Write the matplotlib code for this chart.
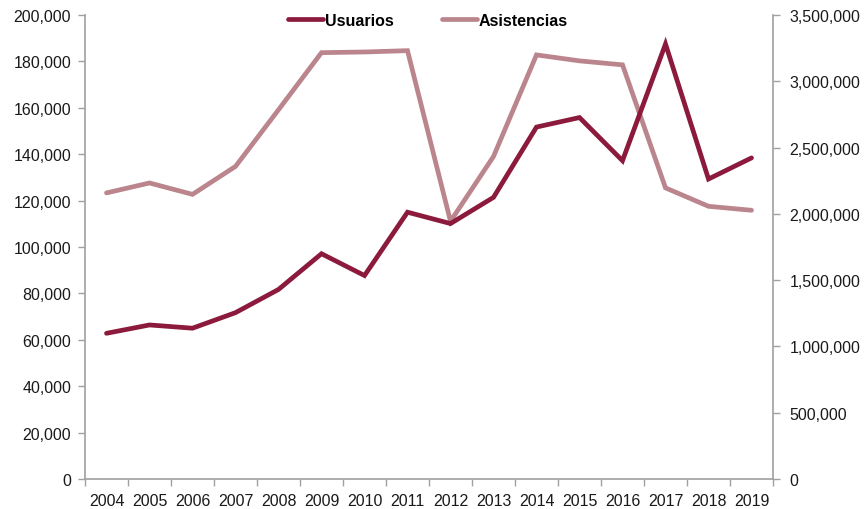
import matplotlib
matplotlib.use("Agg")
import matplotlib.pyplot as plt
from matplotlib.ticker import FuncFormatter, FixedLocator

years = [str(y) for y in range(2004, 2020)]
usuarios = [62800, 66400, 65000, 71700, 81700, 97100, 87700, 115000,
            110100, 121400, 151700, 155800, 137200, 187500, 129300, 138400]
asistencias = [2158000, 2233000, 2147000, 2358000, 2785000, 3216000, 3221000, 3231000,
               1944000, 2433000, 3199000, 3154000, 3124000, 2196000, 2057000, 2027000]

c_usu = "#8B1A3D"
c_asi = "#BA858C"
axis_gray = "#A0A0A0"

plt.rcParams["font.family"] = ["Liberation Sans", "DejaVu Sans"]
plt.rcParams["font.size"] = 11.5

fig = plt.figure(figsize=(8.67, 5.10), dpi=100)
ax = fig.add_axes([85 / 867, 1 - 480 / 510, (773 - 85) / 867, (480 - 16) / 510])
ax2 = ax.twinx()

x = list(range(len(years)))
l1, = ax.plot(x, usuarios, color=c_usu, lw=3.4, solid_capstyle="round",
              solid_joinstyle="miter", zorder=3, label="Usuarios")
l2, = ax2.plot(x, asistencias, color=c_asi, lw=3.4, solid_capstyle="round",
               solid_joinstyle="miter", zorder=2, label="Asistencias")
ax.set_zorder(ax2.get_zorder() + 1)
ax.patch.set_visible(False)

ax.set_xlim(-0.5, len(years) - 0.5)
ax.set_ylim(0, 200000)
ax2.set_ylim(0, 3500000)
ax.set_yticks(range(0, 200001, 20000))
ax2.set_yticks(range(0, 3500001, 500000))

fmt = FuncFormatter(lambda v, p: f"{int(v):,}")
ax.yaxis.set_major_formatter(fmt)
ax2.yaxis.set_major_formatter(fmt)

# category labels centered, tick marks at the category boundaries
ax.set_xticks(x)
ax.set_xticklabels(years)
ax.xaxis.set_minor_locator(FixedLocator([i - 0.5 for i in range(len(years) + 1)]))
ax.tick_params(axis="x", which="major", length=0, pad=10, colors="#1a1a1a")
ax.tick_params(axis="x", which="minor", length=5, width=1, color=axis_gray, direction="out")
ax.tick_params(axis="y", length=5, width=1, color=axis_gray, pad=5, labelcolor="#1a1a1a")
ax2.tick_params(axis="y", length=5, width=1, color=axis_gray, pad=7, labelcolor="#1a1a1a")

for a in (ax, ax2):
    a.spines["top"].set_visible(False)
    for s in ("left", "right", "bottom"):
        a.spines[s].set_color(axis_gray)
        a.spines[s].set_linewidth(1.2)
ax.spines["right"].set_visible(False)
ax2.spines["left"].set_visible(False)
ax2.spines["bottom"].set_visible(False)

leg = fig.legend([l1, l2], ["Usuarios", "Asistencias"], loc="center",
                 bbox_to_anchor=(428 / 867, 1 - 21 / 510), ncol=2, frameon=False,
                 handlelength=2.2, handletextpad=0.12, columnspacing=3.0,
                 prop={"weight": "bold", "size": 11.5})

fig.savefig("out.png", dpi=100, facecolor="white")
